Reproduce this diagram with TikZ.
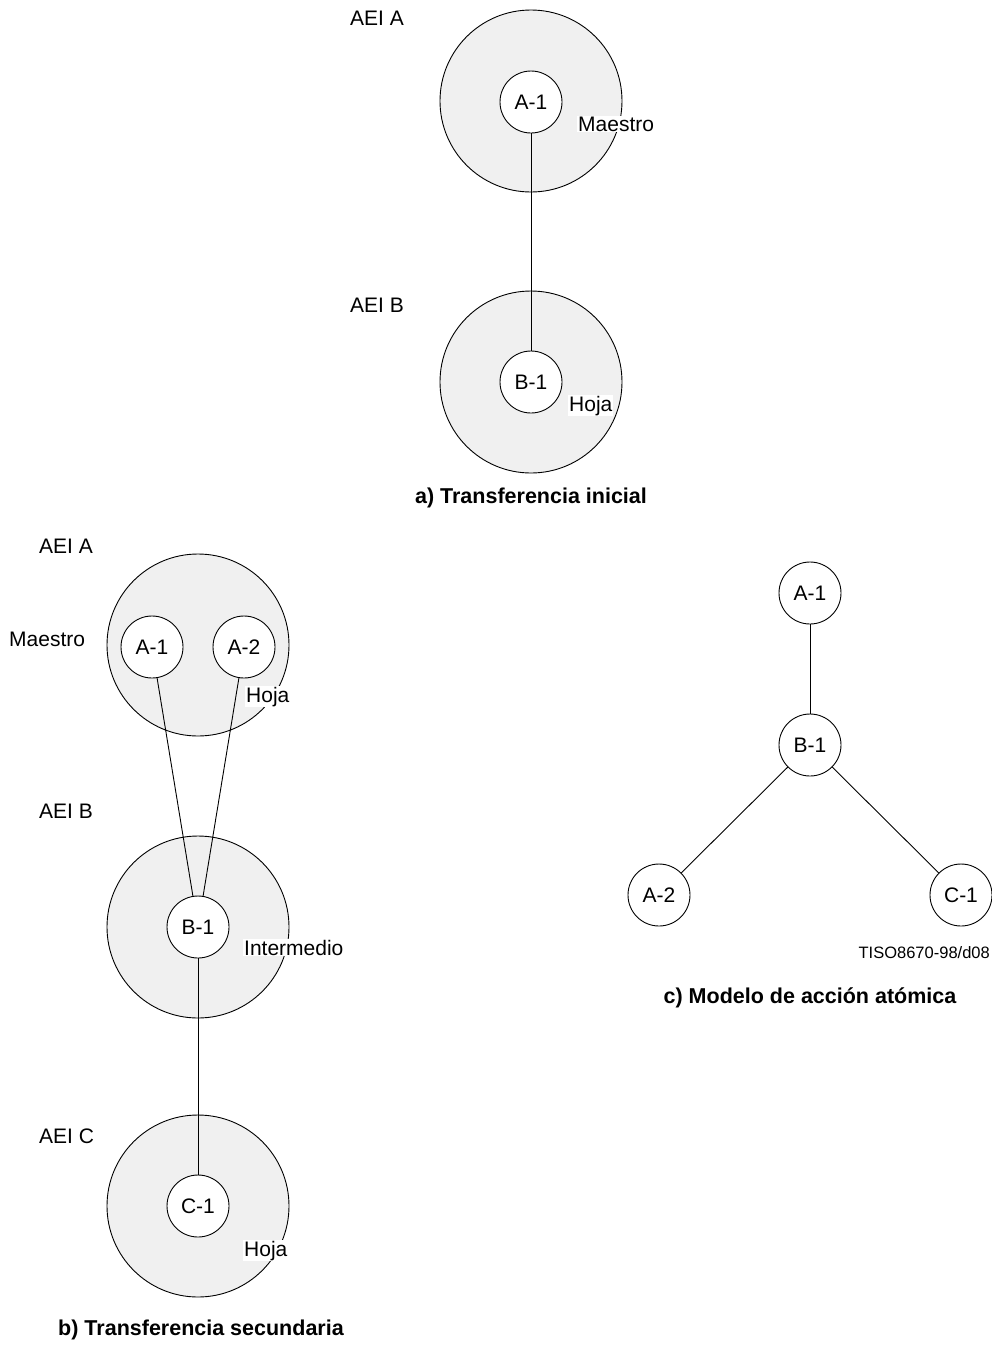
\documentclass[tikz,border=0pt]{standalone}
\usepackage{fontspec}
\setmainfont{Liberation Sans}
\begin{document}
\begin{tikzpicture}[x=1pt,y=-1pt,
  every node/.style={font=\fontsize{21}{24}\selectfont},
  aei/.style={circle,draw,line width=0.9pt,fill=gray!12,minimum size=182pt,inner sep=0pt},
  proc/.style={circle,draw,line width=0.9pt,fill=white,minimum size=62pt,inner sep=0pt},
  role/.style={fill=white,inner sep=1pt,anchor=base west},
  tag/.style={inner sep=0pt,anchor=base west},
  caption/.style={inner sep=0pt,anchor=base,font=\fontsize{21.5}{24}\selectfont\bfseries},
  link/.style={line width=0.9pt}]
\useasboundingbox (0,0) rectangle (992,1345);

% a) initial transfer
\node[aei] (aA) at (531,101) {};
\node[aei] (aB) at (531,382) {};
\node[proc] (aA1) at (531,102) {A-1};
\node[proc] (aB1) at (531,382) {B-1};
\draw[link] (aA1) -- (aB1);
\node[tag] (aAlab) at (350,25) {AEI A};
\node[tag] (aBlab) at (350,312) {AEI B};
\node[role] (aM) at (577,131) {Maestro};
\node[role] (aH) at (568,411) {Hoja};
\node[caption] (capa) at (531,503) {a) Transferencia inicial};

% b) secondary transfer
\node[aei] (bA) at (198,645) {};
\node[aei] (bB) at (198,927) {};
\node[aei] (bC) at (198,1206) {};
\node[proc] (bA1) at (152,647) {A-1};
\node[proc] (bA2) at (244,647) {A-2};
\node[proc] (bB1) at (198,927) {B-1};
\node[proc] (bC1) at (198,1206) {C-1};
\draw[link] (bA1) -- (bB1);
\draw[link] (bA2) -- (bB1);
\draw[link] (bB1) -- (bC1);
\node[tag] (bAlab) at (39,553) {AEI A};
\node[tag] (bBlab) at (39,818) {AEI B};
\node[tag] (bClab) at (39,1143) {AEI C};
\node[tag] (bM) at (9,646) {Maestro};
\node[role] (bH) at (245,702) {Hoja};
\node[role] (bI) at (243,955) {Intermedio};
\node[role] (bH2) at (243,1256) {Hoja};
\node[caption] (capb) at (201,1335) {b) Transferencia secundaria};

% c) atomic action model
\node[proc] (cA1) at (810,593) {A-1};
\node[proc] (cB1) at (810,745) {B-1};
\node[proc] (cA2) at (659,895) {A-2};
\node[proc] (cC1) at (961,895) {C-1};
\draw[link] (cA1) -- (cB1);
\draw[link] (cB1) -- (cA2);
\draw[link] (cB1) -- (cC1);
\node[inner sep=0pt,anchor=base east,font=\fontsize{16.5}{20}\selectfont] (ref) at (990,958) {TISO8670-98/d08};
\node[caption] (capc) at (810,1003) {c) Modelo de acción atómica};
\end{tikzpicture}
\end{document}
